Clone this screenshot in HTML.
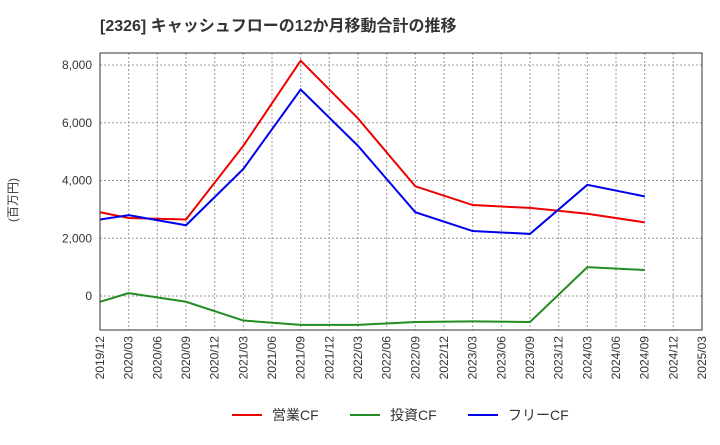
<!DOCTYPE html>
<html><head><meta charset="utf-8"><style>
body{margin:0;background:#fff;font-family:"Liberation Sans","Noto Sans CJK JP",sans-serif;}
</style></head><body>
<svg width="720" height="440" xmlns="http://www.w3.org/2000/svg" id="chart">
<text x="100" y="31" font-size="16" font-weight="bold" fill="#333" font-family="Liberation Sans, Noto Sans CJK JP, sans-serif">[2326]  キャッシュフローの12か月移動合計の推移</text>
<text transform="translate(17,200) rotate(-90)" font-size="12" fill="#333" text-anchor="middle" font-family="Liberation Sans, Noto Sans CJK JP, sans-serif">(百万円)</text>
<g id="grid"></g><g id="axes"></g><g id="series"></g>
<rect x="100" y="53" width="602" height="277" fill="none" stroke="#333"/>
<g font-size="14" fill="#333" font-family="Liberation Sans, Noto Sans CJK JP, sans-serif">
<line x1="232" y1="415" x2="262" y2="415" stroke="#e00" stroke-width="2"/><text x="272" y="420">営業CF</text>
<line x1="350" y1="415" x2="380" y2="415" stroke="#228b22" stroke-width="2"/><text x="390" y="420">投資CF</text>
<line x1="468" y1="415" x2="498" y2="415" stroke="#00e" stroke-width="2"/><text x="508" y="420">フリーCF</text>
</g>
</svg>
<script>
const xLabels=["2019/12","2020/03","2020/06","2020/09","2020/12","2021/03","2021/06","2021/09","2021/12","2022/03","2022/06","2022/09","2022/12","2023/03","2023/06","2023/09","2023/12","2024/03","2024/06","2024/09","2024/12","2025/03"];
const yTicks=[0,2000,4000,6000,8000];
const pointIdx=[0,1,3,5,7,9,11,13,15,17,19];
const operatingCF=[2900,2700,2650,5200,8150,6150,3800,3150,3050,2850,2550];
const investingCF=[-200,100,-200,-850,-1000,-1000,-900,-880,-900,1000,900];
const freeCF=[2650,2800,2450,4400,7150,5200,2900,2250,2150,3850,3450];
const NS="http://www.w3.org/2000/svg";
const X=i=>100+i*602/21;
const Y=v=>296-v*(296-65)/8000;
function mk(t,a,p){const e=document.createElementNS(NS,t);for(const k in a)e.setAttribute(k,a[k]);p.appendChild(e);return e;}
const grid=document.getElementById('grid'),axes=document.getElementById('axes'),ser=document.getElementById('series');
yTicks.forEach(v=>{
 const l=mk('line',{x1:100,x2:702,y1:Y(v),y2:Y(v),stroke:'#999','stroke-dasharray':'2,2'},grid);
 
 
 const t=mk('text',{x:92,y:Y(v)+4,'text-anchor':'end','font-size':12,fill:'#333'},axes);
 t.textContent=v.toLocaleString('en-US');
 
 
});
xLabels.forEach((s,i)=>{
 const l=mk('line',{x1:X(i),x2:X(i),y1:53,y2:330,stroke:'#999','stroke-dasharray':'2,2'},grid);
 
 
 const t=mk('text',{transform:`translate(${X(i)+4},336) rotate(-90)`,'text-anchor':'end','font-size':12,fill:'#333'},axes);
 t.textContent=s;
 
 
});
[[operatingCF,'#e00','operating-cf-line'],[investingCF,'#228b22','investing-cf-line'],[freeCF,'#00e','free-cf-line']].forEach(([d,c,n])=>{
 const p=mk('polyline',{points:d.map((v,k)=>X(pointIdx[k])+','+Y(v)).join(' '),fill:'none',stroke:c,'stroke-width':2},ser);
 
 
});
</script>
</body></html>
